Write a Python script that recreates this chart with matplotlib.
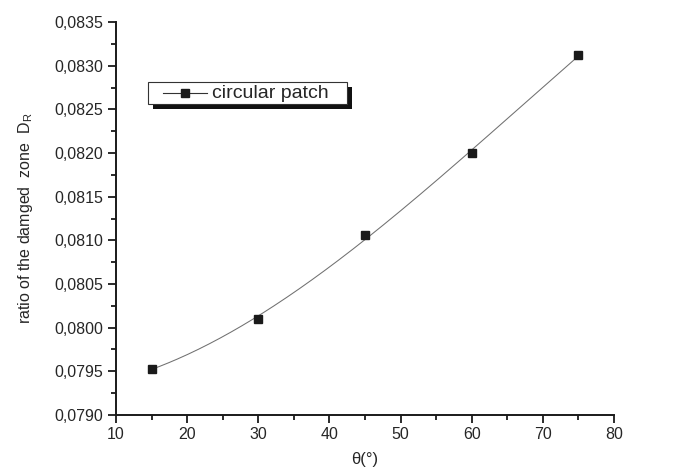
import numpy as np
import matplotlib
matplotlib.use("Agg")
import matplotlib.pyplot as plt
import matplotlib.ticker as ticker
from matplotlib.patches import Rectangle

# data
theta = [15, 30, 45, 60, 75]
ratio = [0.07953, 0.08010, 0.08106, 0.08200, 0.08312]
series_label = "circular patch"

plt.rcParams['font.family'] = ['Liberation Sans', 'DejaVu Sans']
txt = "#262626"

fig = plt.figure(figsize=(6.78, 4.71), dpi=100)
ax = fig.add_axes([0.171, 0.119, 0.7345, 0.834])

# smooth curve fitted through the points
coef = np.polyfit(theta, ratio, 3)
xs = np.linspace(min(theta), max(theta), 200)
ax.plot(xs, np.polyval(coef, xs), color="#707070", lw=0.75)
ax.plot(theta, ratio, ls="none", marker="s", ms=6, color="#1a1a1a")

ax.set_xlim(10, 80)
ax.set_ylim(0.0790, 0.0835)
ax.xaxis.set_major_locator(ticker.MultipleLocator(10))
ax.xaxis.set_minor_locator(ticker.MultipleLocator(5))
ax.yaxis.set_major_locator(ticker.MultipleLocator(0.0005))
ax.yaxis.set_minor_locator(ticker.MultipleLocator(0.00025))
ax.yaxis.set_major_formatter(ticker.FuncFormatter(lambda v, p: f"{v:.4f}".replace(".", ",")))

for s in ["top", "right"]:
    ax.spines[s].set_visible(False)
for s in ["left", "bottom"]:
    ax.spines[s].set_linewidth(1.4)
    ax.spines[s].set_color("#1a1a1a")

ax.tick_params(which="major", direction="out", length=6, width=1.3, labelsize=11.5,
               labelcolor=txt, color="#1a1a1a", pad=3)
ax.tick_params(which="minor", direction="out", length=3.5, width=1.3, color="#1a1a1a")

ax.set_xlabel("θ(°)", fontsize=12, color=txt, labelpad=7)
ax.set_ylabel("ratio of the damged  zone  D$_\\mathregular{R}$", fontsize=11.5, color=txt, labelpad=14)

# legend box with a solid drop shadow (axes coordinates)
tr = ax.transAxes
ax.add_patch(Rectangle((0.0743, 0.7786), 0.3996, 0.056, transform=tr, facecolor="#111111",
                       edgecolor="none", clip_on=False, zorder=4))
ax.add_patch(Rectangle((0.0643, 0.7913), 0.3996, 0.056, transform=tr, facecolor="white",
                       edgecolor="#333333", lw=0.8, clip_on=False, zorder=5))
ax.plot([0.0944, 0.1827], [0.8193, 0.8193], transform=tr, color="#333333", lw=0.8,
        clip_on=False, zorder=6)
ax.plot([0.1386], [0.8193], transform=tr, marker="s", ms=6, color="#1a1a1a",
        clip_on=False, zorder=6)
ax.text(0.1928, 0.8193, series_label, transform=tr, fontsize=14, color=txt,
        va="center", ha="left", zorder=6)

fig.savefig("out.png", dpi=100)
